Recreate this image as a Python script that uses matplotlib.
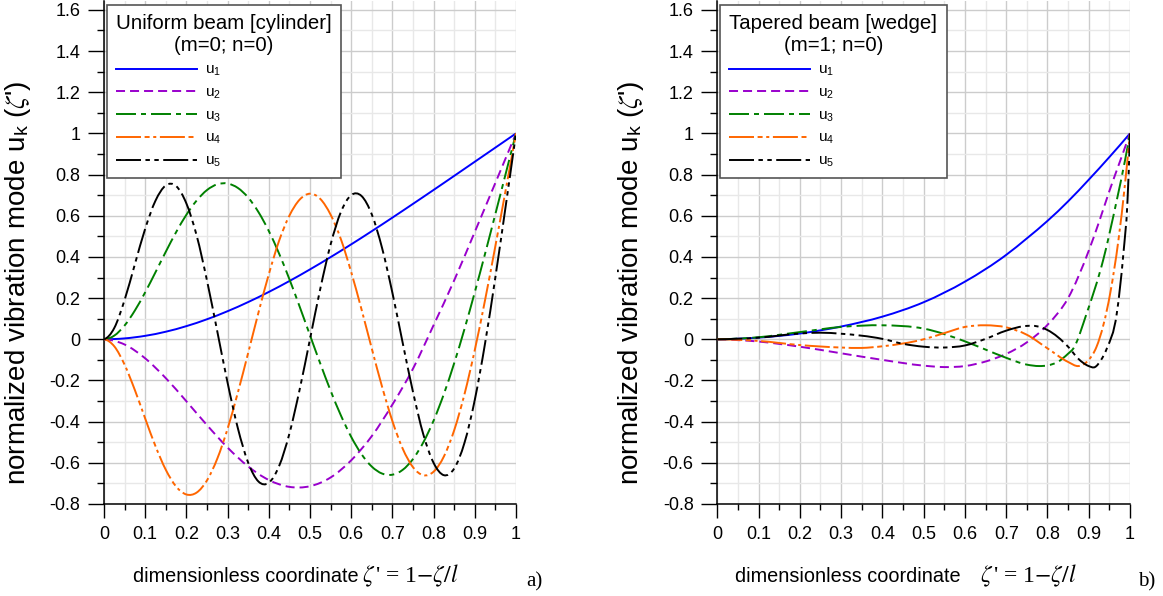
import matplotlib
matplotlib.use("Agg")
import matplotlib.pyplot as plt
from matplotlib.ticker import MultipleLocator, FuncFormatter
from matplotlib.path import Path
from matplotlib.patches import PathPatch
from matplotlib.lines import Line2D

plt.rcParams['font.family'] = ['Liberation Sans', 'DejaVu Sans']
plt.rcParams['mathtext.fontset'] = 'stix'
plt.rcParams['axes.unicode_minus'] = False
plt.rcParams['lines.scale_dashes'] = False

# ---------------- data: panel a) uniform beam ----------------
xa_fine = [i * 0.025 for i in range(41)]
xa_coarse = [i * 0.05 for i in range(21)]
a_u1 = [0.0, 0.0043, 0.0168, 0.0368, 0.0639, 0.0973, 0.1365, 0.1809, 0.2299, 0.2829,
        0.3395, 0.3991, 0.4611, 0.5252, 0.5909, 0.6578, 0.7254, 0.7937, 0.8624, 0.9311, 1.0]
a_u2 = [0.0, -0.0253, -0.0926, -0.1888, -0.3012, -0.4170, -0.5261, -0.6176, -0.6834, -0.7168,
        -0.7136, -0.6712, -0.5878, -0.4701, -0.3171, -0.1427, 0.0687, 0.2864, 0.5217, 0.7600, 1.0]
a_u3 = [0.0, 0.018, 0.067, 0.140, 0.2284, 0.3258, 0.4252, 0.5202, 0.6049, 0.6742,
        0.7249, 0.7529, 0.7566, 0.7349, 0.6882, 0.6175, 0.5260, 0.4161, 0.2919, 0.1580,
        0.0194, -0.1181, -0.2496, -0.3699, -0.4741, -0.5578, -0.6184, -0.6522, -0.6577, -0.6341,
        -0.5816, -0.5009, -0.3950, -0.2654, -0.1158, 0.0502, 0.2289, 0.4162, 0.6090, 0.8044, 1.0]
a_u4 = [0.0, -0.0343, -0.1235, -0.2470, -0.3850, -0.5193, -0.6338, -0.7150, -0.7538, -0.7443,
        -0.6853, -0.5796, -0.4341, -0.2578, -0.0657, 0.1303, 0.3156, 0.4785, 0.6006, 0.6786,
        0.7072, 0.6818, 0.6053, 0.4860, 0.3265, 0.1455, -0.0452, -0.2310, -0.3974, -0.5312,
        -0.6214, -0.6602, -0.6431, -0.5691, -0.4416, -0.2664, -0.0520, 0.1914, 0.4536, 0.7253, 1.0]
a_u5 = [0.0, 0.0551, 0.1911, 0.3651, 0.5372, 0.6733, 0.7475, 0.7443, 0.6596, 0.5030,
        0.2852, 0.0380, -0.2113, -0.4327, -0.5994, -0.6910, -0.6967, -0.6157, -0.4582, -0.2429,
        0.0008, 0.2456, 0.4603, 0.6184, 0.7003, 0.6961, 0.6065, 0.4428, 0.2257, -0.0175,
        -0.2560, -0.4615, -0.6004, -0.6601, -0.6276, -0.5025, -0.2940, -0.0187, 0.3021, 0.6472, 1.0]

# ---------------- data: panel b) tapered beam ----------------
b_x1 = [0, 0.1, 0.2, 0.3, 0.4, 0.5, 0.6, 0.7, 0.75, 0.8, 0.85, 0.9, 0.95, 1.0]
b_u1 = [0, 0.008, 0.028, 0.062, 0.11, 0.18, 0.28, 0.41, 0.49, 0.575, 0.67, 0.775, 0.885, 1.0]
b_x2 = [0, 0.1, 0.2, 0.3, 0.4, 0.5, 0.55, 0.6, 0.65, 0.7, 0.75, 0.8, 0.85, 0.9, 0.925, 0.95, 0.975, 1.0]
b_u2 = [0, -0.011, -0.036, -0.068, -0.100, -0.128, -0.135, -0.130, -0.108, -0.071, -0.015, 0.07,
        0.20, 0.43, 0.57, 0.72, 0.86, 1.0]
b_x3 = [0, 0.1, 0.2, 0.3, 0.4, 0.5, 0.6, 0.65, 0.7, 0.75, 0.78, 0.8, 0.825, 0.85, 0.863, 0.895,
        0.935, 0.968, 0.988, 1.0]
b_u3 = [0, 0.01, 0.035, 0.06, 0.068, 0.052, -0.01, -0.05, -0.09, -0.123, -0.13, -0.127, -0.11,
        -0.07, -0.044, 0.126, 0.385, 0.676, 0.87, 1.0]
b_x4 = [0, 0.1, 0.2, 0.3, 0.35, 0.4, 0.5, 0.55, 0.6, 0.65, 0.7, 0.75, 0.8, 0.85, 0.875, 0.9,
        0.919, 0.952, 0.972, 0.988, 1.0]
b_u4 = [0, -0.008, -0.028, -0.04, -0.042, -0.034, 0.0, 0.03, 0.06, 0.068, 0.058, 0.022, -0.044,
        -0.11, -0.13, -0.10, -0.036, 0.223, 0.482, 0.757, 1.0]
b_x5 = [0, 0.1, 0.2, 0.25, 0.3, 0.4, 0.45, 0.5, 0.55, 0.6, 0.65, 0.7, 0.75, 0.775, 0.8, 0.85,
        0.875, 0.9, 0.915, 0.93, 0.944, 0.968, 0.984, 0.994, 1.0]
b_u5 = [0, 0.008, 0.028, 0.032, 0.027, 0.002, -0.022, -0.036, -0.04, -0.03, 0.002, 0.042, 0.065,
        0.063, 0.045, -0.036, -0.095, -0.13, -0.135, -0.10, -0.044, 0.126, 0.417, 0.676, 1.0]

labels = ['u$_{\\mathregular{1}}$', 'u$_{\\mathregular{2}}$', 'u$_{\\mathregular{3}}$',
          'u$_{\\mathregular{4}}$', 'u$_{\\mathregular{5}}$']
colors = ['#0000ff', '#9900cc', '#008000', '#ff6600', '#000000']
dashes = [None, (6.5, 3.6), (14.4, 3.6, 3.6, 3.6), (18, 2.6, 3.6, 2.6, 2.2, 2.6),
          (18, 3.2, 3.2, 3.2, 3.2, 3.2)]
LW = 1.4


def smooth_path(xs, ys):
    """Cubic Bezier path through the read points (Hermite tangents)."""
    n = len(xs)
    m = []
    for i in range(n):
        if i == 0:
            h0, h1 = xs[1] - xs[0], xs[2] - xs[1]
            d0, d1 = (ys[1] - ys[0]) / h0, (ys[2] - ys[1]) / h1
            m.append(d0 - (d1 - d0) * h0 / (h0 + h1))
        elif i == n - 1:
            h0, h1 = xs[n - 2] - xs[n - 3], xs[n - 1] - xs[n - 2]
            d0, d1 = (ys[n - 2] - ys[n - 3]) / h0, (ys[n - 1] - ys[n - 2]) / h1
            m.append(d1 + (d1 - d0) * h1 / (h0 + h1))
        else:
            h0, h1 = xs[i] - xs[i - 1], xs[i + 1] - xs[i]
            d0, d1 = (ys[i] - ys[i - 1]) / h0, (ys[i + 1] - ys[i]) / h1
            m.append((d0 * h1 + d1 * h0) / (h0 + h1))
    verts = [(xs[0], ys[0])]
    codes = [Path.MOVETO]
    for i in range(n - 1):
        h = xs[i + 1] - xs[i]
        verts += [(xs[i] + h / 3, ys[i] + m[i] * h / 3),
                  (xs[i + 1] - h / 3, ys[i + 1] - m[i + 1] * h / 3),
                  (xs[i + 1], ys[i + 1])]
        codes += [Path.CURVE4] * 3
    return Path(verts, codes)


fig = plt.figure(figsize=(11.63, 5.96), dpi=100)
ax_a = fig.add_axes([104 / 1163, 1 - 504 / 596, 412 / 1163, 503.4 / 596])
ax_b = fig.add_axes([717.3 / 1163, 1 - 504 / 596, 412.7 / 1163, 503.4 / 596])


def fmt(v, pos):
    s = ('%.1f' % v)
    if s.endswith('.0'):
        s = s[:-2]
    if s == '-0':
        s = '0'
    return s


def style(ax):
    ax.set_xlim(0, 1)
    ax.set_ylim(-0.8, 1.645)
    ax.xaxis.set_major_locator(MultipleLocator(0.1))
    ax.xaxis.set_minor_locator(MultipleLocator(0.05))
    ax.yaxis.set_major_locator(MultipleLocator(0.2))
    ax.yaxis.set_minor_locator(MultipleLocator(0.1))
    ax.xaxis.set_major_formatter(FuncFormatter(fmt))
    ax.yaxis.set_major_formatter(FuncFormatter(fmt))
    ax.grid(True, which='major', color='#cccccc', lw=1.0, zorder=0)
    ax.grid(True, which='minor', color='#e8e8e8', lw=1.0, zorder=0)
    ax.set_axisbelow(True)
    for s in ['top', 'right']:
        ax.spines[s].set_visible(False)
    for s in ['left', 'bottom']:
        ax.spines[s].set_color('black')
        ax.spines[s].set_linewidth(1.1)
    ax.tick_params(axis='x', which='major', direction='out', length=10, width=1.0,
                   labelsize=13, pad=6, color='black')
    ax.tick_params(axis='y', which='major', direction='out', length=11.5, width=1.0,
                   labelsize=13, pad=5.5, color='black')
    ax.tick_params(axis='x', which='minor', direction='out', length=4.5, width=1.0, color='black')
    ax.tick_params(axis='y', which='minor', direction='out', length=5.4, width=1.0, color='black')
    ax.set_ylabel("normalized vibration mode u$_{\\mathregular{k}}$ ($\\zeta$')", fontsize=20)
    ax.yaxis.set_label_coords(-0.172, 0.44)


style(ax_a)
style(ax_b)


def draw(ax, xs_list, ys_list):
    handles = []
    for x, y, c, d, lab in zip(xs_list, ys_list, colors, dashes, labels):
        patch = PathPatch(smooth_path(x, y), facecolor='none', edgecolor=c, lw=LW, zorder=3,
                          capstyle='butt', joinstyle='round')
        if d is not None:
            patch.set_linestyle((0, d))
        ax.add_patch(patch)
        h = Line2D([], [], color=c, lw=LW, label=lab)
        if d is not None:
            h.set_dashes(d)
        handles.append(h)
    return handles


h_a = draw(ax_a, [xa_coarse, xa_coarse, xa_fine, xa_fine, xa_fine],
           [a_u1, a_u2, a_u3, a_u4, a_u5])
h_b = draw(ax_b, [b_x1, b_x2, b_x3, b_x4, b_x5], [b_u1, b_u2, b_u3, b_u4, b_u5])

for ax, hs, title in [(ax_a, h_a, "Uniform beam [cylinder]\n(m=0; n=0)"),
                      (ax_b, h_b, "Tapered beam [wedge]\n(m=1; n=0)")]:
    leg = ax.legend(handles=hs, loc='upper left', bbox_to_anchor=(0.007, 0.991),
                    borderaxespad=0, title=title, title_fontsize=14.7, fontsize=11,
                    handlelength=5.3, handletextpad=0.5, labelspacing=0.5, fancybox=False,
                    framealpha=1, edgecolor='#555555', borderpad=0.6, alignment='left')
    leg.get_frame().set_linewidth(1.2)
    leg.get_title().set_multialignment('center')
    leg.set_zorder(10)

# x labels: words in sans-serif, formula in serif
H = 596.0
for x_words, x_math in [(133, 362), (735, 980)]:
    fig.text(x_words / 1163, 1 - 582 / H, 'dimensionless coordinate', fontsize=14.3,
             ha='left', va='baseline')
    fig.text(x_math / 1163, 1 - 582 / H, "$\\zeta\\,$' = 1$-\\zeta/l$", fontsize=17,
             family='Liberation Serif', ha='left', va='baseline')

fig.text(534 / 1163, 1 - 586 / H, 'a)', family='Liberation Serif', fontsize=15,
         ha='center', va='baseline')
fig.text(1147 / 1163, 1 - 586 / H, 'b)', family='Liberation Serif', fontsize=15,
         ha='center', va='baseline')

fig.savefig('out.png', dpi=100)
